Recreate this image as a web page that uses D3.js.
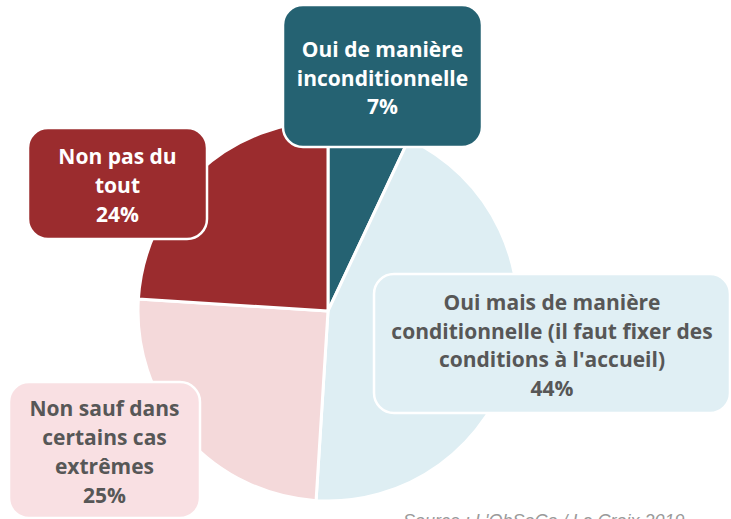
<!DOCTYPE html>
<html>
<head>
<meta charset="utf-8">
<script src="https://cdn.jsdelivr.net/npm/d3@7"></script>
<style>
  html, body { margin: 0; padding: 0; background: #fff; }
  svg { display: block; }
</style>
</head>
<body>
<div id="chart"></div>
<script>
// answers to the survey question, clockwise from 12 o'clock
const categories = [
  "Oui de manière inconditionnelle",
  "Oui mais de manière conditionnelle (il faut fixer des conditions à l'accueil)",
  "Non sauf dans certains cas extrêmes",
  "Non pas du tout"
];
const values = [7, 44, 25, 24];
const labelLines = [
  ["Oui de manière", "inconditionnelle"],
  ["Oui mais de manière", "conditionnelle (il faut fixer des", "conditions à l'accueil)"],
  ["Non sauf dans", "certains cas", "extrêmes"],
  ["Non pas du", "tout"]
];
const source = "Source : L'ObSoCo / La Croix 2019";

const sliceColors = ["#256272", "#deeef3", "#f4d9da", "#9b2c2e"];
const boxColors = ["#256272", "#e0eff4", "#f9e0e3", "#9b2c2e"];
const textColors = ["#ffffff", "#575757", "#575757", "#ffffff"];

// label boxes: x, y, w, h
const boxes = [
  { x: 283, y: 5, w: 199, h: 142 },
  { x: 374, y: 274, w: 356, h: 139 },
  { x: 9, y: 382, w: 191, h: 136 },
  { x: 28, y: 128, w: 179, h: 111 }
];

const width = 731;
const height = 519;
const cx = 328;
const cy = 311;
const radius = 190;

const svg = d3
  .select("#chart")
  .append("svg")
  .attr("width", width)
  .attr("height", height);

const pie = d3.pie().sort(null).value(d => d);
const arc = d3.arc().innerRadius(0).outerRadius(radius);

const g = svg.append("g").attr("transform", `translate(${cx},${cy})`);

g.selectAll("path")
  .data(pie(values))
  .enter()
  .append("path")
  .attr("d", arc)
  .attr("fill", (d, i) => sliceColors[i])
  .attr("stroke", "#fff")
  .attr("stroke-width", 3)
  .attr("stroke-linejoin", "round");

const labels = svg
  .selectAll(".label")
  .data(categories)
  .enter()
  .append("g")
  .attr("class", "label");

labels
  .append("rect")
  .attr("x", (d, i) => boxes[i].x)
  .attr("y", (d, i) => boxes[i].y)
  .attr("width", (d, i) => boxes[i].w)
  .attr("height", (d, i) => boxes[i].h)
  .attr("rx", 20)
  .attr("fill", (d, i) => boxColors[i])
  .attr("stroke", "#fff")
  .attr("stroke-width", 2.5);

const lineH = 28.8;
labels.each(function(d, i) {
  const lines = labelLines[i].concat([values[i] + "%"]);
  const b = boxes[i];
  const midY = b.y + b.h / 2 + 2;
  const top = midY - ((lines.length - 1) * lineH) / 2;
  const t = d3
    .select(this)
    .append("text")
    .attr("text-anchor", "middle")
    .attr("fill", textColors[i])
    .style("font-family", "'Open Sans', 'Noto Sans', sans-serif")
    .style("font-weight", 700)
    .style("font-size", "21px");
  lines.forEach((line, k) => {
    t.append("tspan")
      .attr("x", b.x + b.w / 2)
      .attr("y", top + k * lineH)
      .attr("dy", "0.36em")
      .text(line);
  });
});

// source line, cut by the bottom edge as in the original
svg
  .append("text")
  .attr("x", 403)
  .attr("y", 527)
  .attr("fill", "#9a9a9a")
  .style("font-family", "'Liberation Sans', Arial, sans-serif")
  .style("font-style", "italic")
  .style("font-size", "18px")
  .text(source);
</script>
</body>
</html>
